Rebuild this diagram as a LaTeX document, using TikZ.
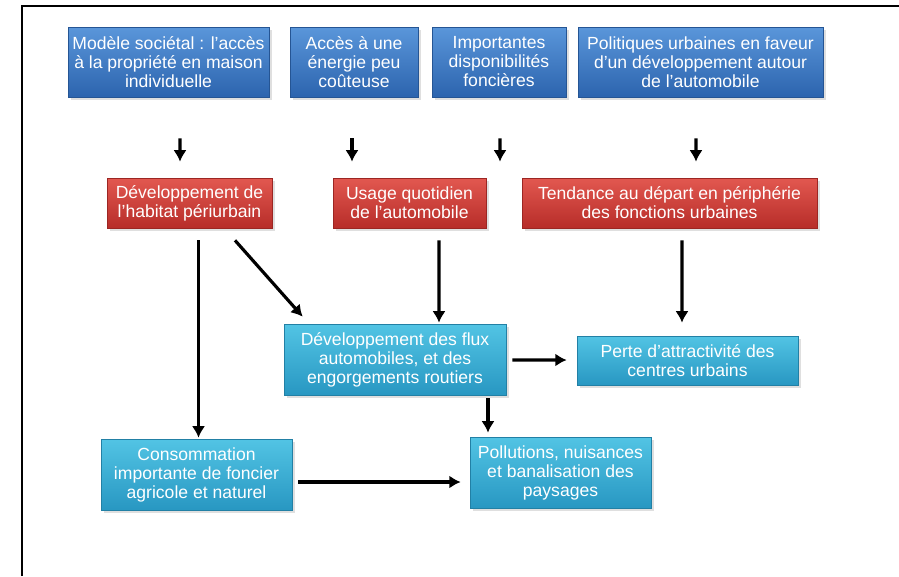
\documentclass[tikz,border=0pt]{standalone}
\usepackage{fontspec}
\setmainfont{Liberation Sans}
\usepackage{xcolor}
\usetikzlibrary{calc,shadows,arrows.meta}
\definecolor{bleuhaut}{HTML}{5A96DA}
\definecolor{bleubas}{HTML}{2C64AE}
\definecolor{rougehaut}{HTML}{E25850}
\definecolor{rougebas}{HTML}{B72D29}
\definecolor{cyanhaut}{HTML}{52C4E4}
\definecolor{cyanbas}{HTML}{2897C2}

\begin{document}
\begin{tikzpicture}[
    x                  = 0.02cm,
    y                  = -0.02cm,
    every node/.style  = {font=\fontsize{10}{10.8}\selectfont, text=white,
                          align=center, inner sep=0pt},
    box/.style         = {draw=#1bas!85!black, line width=0.4pt,
                          top color=#1haut, bottom color=#1bas,
                          drop shadow={opacity=0.25, shadow xshift=1.5pt, shadow yshift=-1.5pt}},
    fleche/.style      = {draw, -{Latex[length=6.5pt,width=7.5pt]}, line width=1.8pt}
  ]
\useasboundingbox (0,0) rectangle (899,576);
\draw[line width=1.2pt] (22,576) -- (22,6) -- (899,6);

\node[box=bleu, minimum width=4.02cm, minimum height=1.4cm] (b1) at (168.5,62)
  {Modèle sociétal : l’accès\\à la propriété en maison\\individuelle};
\node[box=bleu, minimum width=2.56cm, minimum height=1.4cm] (b2) at (354,62)
  {Accès à une\\énergie peu\\coûteuse};
\node[box=bleu, minimum width=2.68cm, minimum height=1.4cm] (b3) at (499,62)
  {Importantes\\disponibilités\\foncières};
\node[box=bleu, minimum width=4.9cm, minimum height=1.4cm] (b4) at (700.5,62)
  {Politiques urbaines en faveur\\d’un développement autour\\de l’automobile};

\node[box=rouge, minimum width=3.3cm, minimum height=1cm] (r1) at (189.5,203)
  {Développement de\\l’habitat périurbain};
\node[box=rouge, minimum width=3.06cm, minimum height=1cm] (r2) at (409.5,203)
  {Usage quotidien\\de l’automobile};
\node[box=rouge, minimum width=5.9cm, minimum height=1cm] (r3) at (669.5,203)
  {Tendance au départ en périphérie\\des fonctions urbaines};

\node[box=cyan, minimum width=4.44cm, minimum height=1.42cm] (c1) at (395,359.5)
  {Développement des flux\\automobiles, et des\\engorgements routiers};
\node[box=cyan, minimum width=4.42cm, minimum height=0.98cm] (c2) at (687.5,360.5)
  {Perte d’attractivité des\\centres urbains};
\node[box=cyan, minimum width=3.82cm, minimum height=1.42cm] (c3) at (196.5,474.5)
  {Consommation\\importante de foncier\\agricole et naturel};
\node[box=cyan, minimum width=3.62cm, minimum height=1.42cm] (c4) at (560.5,472.5)
  {Pollutions, nuisances\\et banalisation des\\paysages};

\draw[fleche] ($(b1.south)+(11.5,41)$) -- ($(r1.north)+(-9.5,-16)$);
\draw[fleche] ($(b2.south)+(-2,41)$)   -- ($(r2.north)+(-57.5,-16)$);
\draw[fleche] ($(b3.south)+(1,41)$)    -- ($(r2.north)+(90.5,-16)$);
\draw[fleche] ($(b4.south)+(-4.5,41)$) -- ($(r3.north)+(26.5,-16)$);
\draw[fleche] ($(r1.south)+(9,12)$)    -- ($(c3.north)+(2,-1)$);
\draw[fleche] ($(r1.south)+(45.5,12)$) -- ($(c1.north west)+(19,-7)$);
\draw[fleche] ($(r2.south)+(29.5,12)$) -- ($(c1.north)+(44,-1)$);
\draw[fleche] ($(r3.south)+(12.5,12)$) -- ($(c2.north)+(-5.5,-13)$);
\draw[fleche] ($(c1.east)+(6,0.5)$)    -- ($(c2.west)+(-10,-0.5)$);
\draw[fleche] ($(c1.south)+(93,3)$)    -- ($(c4.north)+(-72.5,-4)$);
\draw[fleche] ($(c3.east)+(6,7.5)$)    -- ($(c4.west)+(-9,9.5)$);
\end{tikzpicture}
\end{document}
